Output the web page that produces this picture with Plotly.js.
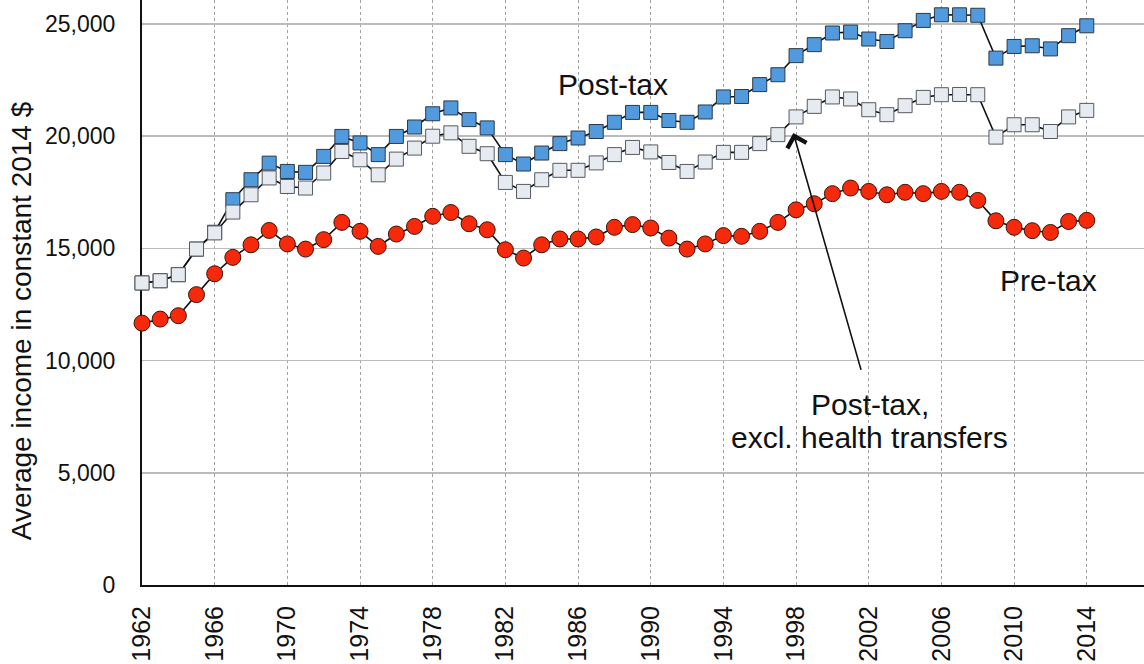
<!DOCTYPE html>
<html>
<head>
<meta charset="utf-8">
<script src="https://cdn.plot.ly/plotly-3.0.1.min.js"></script>
<style>
  html, body { margin: 0; padding: 0; background: #ffffff; }
  #chart { width: 1144px; height: 664px; }
</style>
</head>
<body>
<div id="chart"></div>
<script>
// ---- Data ----
const years = [1962, 1963, 1964, 1965, 1966, 1967, 1968, 1969, 1970, 1971,
               1972, 1973, 1974, 1975, 1976, 1977, 1978, 1979, 1980, 1981,
               1982, 1983, 1984, 1985, 1986, 1987, 1988, 1989, 1990, 1991,
               1992, 1993, 1994, 1995, 1996, 1997, 1998, 1999, 2000, 2001,
               2002, 2003, 2004, 2005, 2006, 2007, 2008, 2009, 2010, 2011,
               2012, 2013, 2014];

const postTax = [13460, 13560, 13830, 14970, 15720, 17170, 18060, 18800, 18430, 18390,
                 19100, 19990, 19700, 19180, 19990, 20410, 21000, 21260, 20740, 20370,
                 19180, 18760, 19250, 19670, 19920, 20210, 20620, 21060, 21060, 20700,
                 20620, 21080, 21750, 21770, 22300, 22740, 23590, 24080, 24600, 24640,
                 24330, 24220, 24700, 25160, 25410, 25410, 25390, 23480, 24000, 24030,
                 23890, 24480, 24920];

const postTaxExclHealth = [13460, 13560, 13830, 14970, 15690, 16620, 17390, 18140, 17760, 17690,
                           18360, 19320, 18950, 18280, 18980, 19470, 20000, 20150, 19550, 19220,
                           17940, 17540, 18060, 18480, 18480, 18810, 19180, 19500, 19300, 18830,
                           18430, 18850, 19280, 19280, 19670, 20070, 20860, 21330, 21750, 21660,
                           21180, 20960, 21360, 21730, 21850, 21860, 21850, 19960, 20510, 20510,
                           20210, 20860, 21150];

const preTax = [11670, 11850, 12000, 12940, 13870, 14600, 15160, 15800, 15200, 14970,
                15390, 16160, 15760, 15090, 15640, 15980, 16430, 16600, 16100, 15830,
                14940, 14570, 15160, 15420, 15420, 15510, 15940, 16060, 15910, 15460,
                14970, 15200, 15570, 15540, 15760, 16160, 16720, 16990, 17440, 17690,
                17540, 17390, 17500, 17440, 17540, 17500, 17140, 16230, 15940, 15790,
                15710, 16200, 16250];

const xTickVals = [1962, 1966, 1970, 1974, 1978, 1982, 1986, 1990, 1994, 1998, 2002, 2006, 2010, 2014];
const yTickVals = [0, 5000, 10000, 15000, 20000, 25000];
const yTickText = ["0", "5,000", "10,000", "15,000", "20,000", "25,000"];

const seriesNames = ["Post-tax", "Post-tax, excl. health transfers", "Pre-tax"];
const yAxisTitle = "Average income in constant 2014 $";

// ---- Styling ----
const FONT = '"Liberation Sans", Arial, Helvetica, sans-serif';
const lineStyle = { color: '#111111', width: 1.6 };

const traces = [
  {
    x: years, y: postTax, name: seriesNames[0], type: 'scatter', mode: 'lines+markers',
    cliponaxis: false,
    line: lineStyle,
    marker: { symbol: 'square', size: 14, color: '#529ade', line: { color: '#2b3947', width: 1 } }
  },
  {
    x: years, y: postTaxExclHealth, name: seriesNames[1], type: 'scatter', mode: 'lines+markers',
    cliponaxis: false,
    line: lineStyle,
    marker: { symbol: 'square', size: 14, color: '#e6ebf2', line: { color: '#555a60', width: 1 } }
  },
  {
    x: years, y: preTax, name: seriesNames[2], type: 'scatter', mode: 'lines+markers',
    cliponaxis: false,
    line: lineStyle,
    marker: { symbol: 'circle', size: 16, color: '#f7290b', line: { color: '#3b1409', width: 1 } }
  }
];

const annFont = { family: FONT, size: 30, color: '#111111' };

const layout = {
  width: 1144, height: 664,
  margin: { l: 142, r: 0, t: 0, b: 79, pad: 0 },
  paper_bgcolor: '#ffffff', plot_bgcolor: '#ffffff',
  showlegend: false,
  font: { family: FONT, color: '#111111' },
  xaxis: {
    range: [1962, 2017.15],
    tickmode: 'array', tickvals: xTickVals,
    tickangle: -90,
    tickfont: { family: FONT, size: 25, color: '#111111' },
    ticks: '', ticklabelstandoff: 9,
    showgrid: true, gridcolor: '#a0a0a0', gridwidth: 1, griddash: '3px,3px',
    showline: true, linecolor: '#111111', linewidth: 2,
    zeroline: false, layer: 'below traces', fixedrange: true
  },
  yaxis: {
    range: [0, 26070],
    tickmode: 'array', tickvals: yTickVals, ticktext: yTickText,
    tickfont: { family: FONT, size: 23, color: '#111111' },
    ticks: '', ticklabelstandoff: 20,
    showgrid: true, gridcolor: '#bbbbbb', gridwidth: 1.5,
    showline: true, linecolor: '#111111', linewidth: 2,
    zeroline: false, layer: 'below traces', fixedrange: true
  },
  annotations: [
    { text: 'Post-tax', x: 1987.9, y: 22300, xref: 'x', yref: 'y',
      showarrow: false, font: annFont, xanchor: 'center', yanchor: 'middle' },
    { text: 'Pre-tax', x: 2011.9, y: 13560, xref: 'x', yref: 'y',
      showarrow: false, font: annFont, xanchor: 'center', yanchor: 'middle' },
    { text: 'Post-tax,', x: 2002.05, y: 8040, xref: 'x', yref: 'y',
      showarrow: false, font: annFont, xanchor: 'center', yanchor: 'middle' },
    { text: 'excl. health transfers', x: 2002.05, y: 6570, xref: 'x', yref: 'y',
      showarrow: false, font: annFont, xanchor: 'center', yanchor: 'middle' },
    { text: '', x: 1997.85, y: 20140, xref: 'x', yref: 'y',
      ax: 2001.6, ay: 9520, axref: 'x', ayref: 'y',
      showarrow: true, arrowhead: 4, arrowsize: 2.4, arrowwidth: 1.6, arrowcolor: '#111111',
      standoff: 0, startstandoff: 0 },
    { text: yAxisTitle, xref: 'paper', yref: 'paper', x: 0, y: 0.451,
      xshift: -121, textangle: -90, showarrow: false,
      font: { family: FONT, size: 28, color: '#111111' },
      xanchor: 'center', yanchor: 'middle' }
  ]
};

Plotly.newPlot('chart', traces, layout, { staticPlot: true, displayModeBar: false });
</script>
</body>
</html>
